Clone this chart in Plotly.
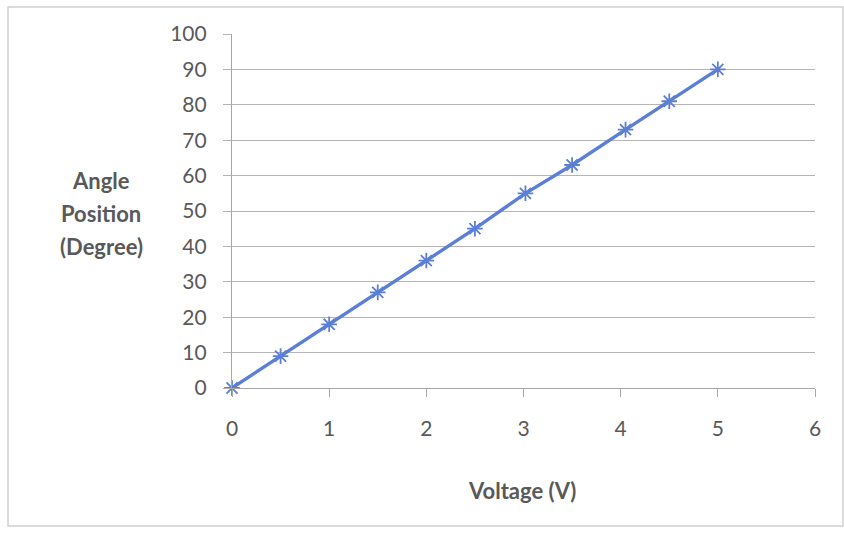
import plotly.graph_objects as go

voltage = [0, 0.5, 1, 1.5, 2, 2.5, 3.02, 3.5, 4.05, 4.5, 5]
angle = [0, 9, 18, 27, 36, 45, 55, 63, 73, 81, 90]
x_ticks = [0, 1, 2, 3, 4, 5, 6]
y_ticks = [0, 10, 20, 30, 40, 50, 60, 70, 80, 90, 100]
y_title_lines = ["Angle", "Position", "(Degree)"]

fig = go.Figure()
fig.add_trace(go.Scatter(
    x=voltage, y=angle, mode="lines+markers", cliponaxis=False,
    line=dict(color="#5b7fd6", width=3.4),
    marker=dict(symbol="asterisk-open", size=13, line=dict(color="#6d94e8", width=1.8)),
    showlegend=False,
))

font_family = "Lato, 'Open Sans', sans-serif"
W, H = 844, 533
L, R, T, B = 232, 29, 34, 145
pw, ph = W - L - R, H - T - B

def px(xp):
    return (xp - L) / pw

def py(yp):
    return (H - B - yp) / ph

annotations = []
for i, (txt, yp) in enumerate(zip(y_title_lines, [180, 213, 246])):
    annotations.append(dict(text="<b>%s</b>" % txt, xref="paper", yref="paper",
                            x=px(101), y=py(yp), xanchor="center", yanchor="middle",
                            showarrow=False, font=dict(size=22, color="#595959", family=font_family)))
annotations.append(dict(text="<b>Voltage (V)</b>", xref="paper", yref="paper",
                        x=px(522), y=py(490), xanchor="center", yanchor="middle", showarrow=False,
                        font=dict(size=22, color="#595959", family=font_family)))

fig.update_layout(
    width=W, height=H,
    margin=dict(l=L, r=R, t=T, b=B),
    paper_bgcolor="white", plot_bgcolor="white",
    font=dict(family=font_family, color="#595959", size=21),
    xaxis=dict(
        range=[0, 6], tickvals=x_ticks, showgrid=False, zeroline=False,
        showline=True, linecolor="#a6a6a6", linewidth=1.2,
        ticks="outside", ticklen=8, tickcolor="#a6a6a6", ticklabelstandoff=14,
        tickfont=dict(size=21, color="#595959"),
    ),
    yaxis=dict(
        range=[0, 100], tickvals=y_ticks, showgrid=True, gridcolor="#b5b5b5", gridwidth=1.2,
        zeroline=False, showline=True, linecolor="#a6a6a6", linewidth=1.2,
        ticks="outside", ticklen=8, tickcolor="#b5b5b5", ticklabelstandoff=12,
        tickfont=dict(size=21, color="#595959"),
    ),
    annotations=annotations,
    shapes=[dict(type="rect", xref="paper", yref="paper",
                 x0=px(8), x1=px(843), y0=py(526), y1=py(7),
                 line=dict(color="#d0d0d0", width=1.5))],
)

fig.write_html("out.html")
